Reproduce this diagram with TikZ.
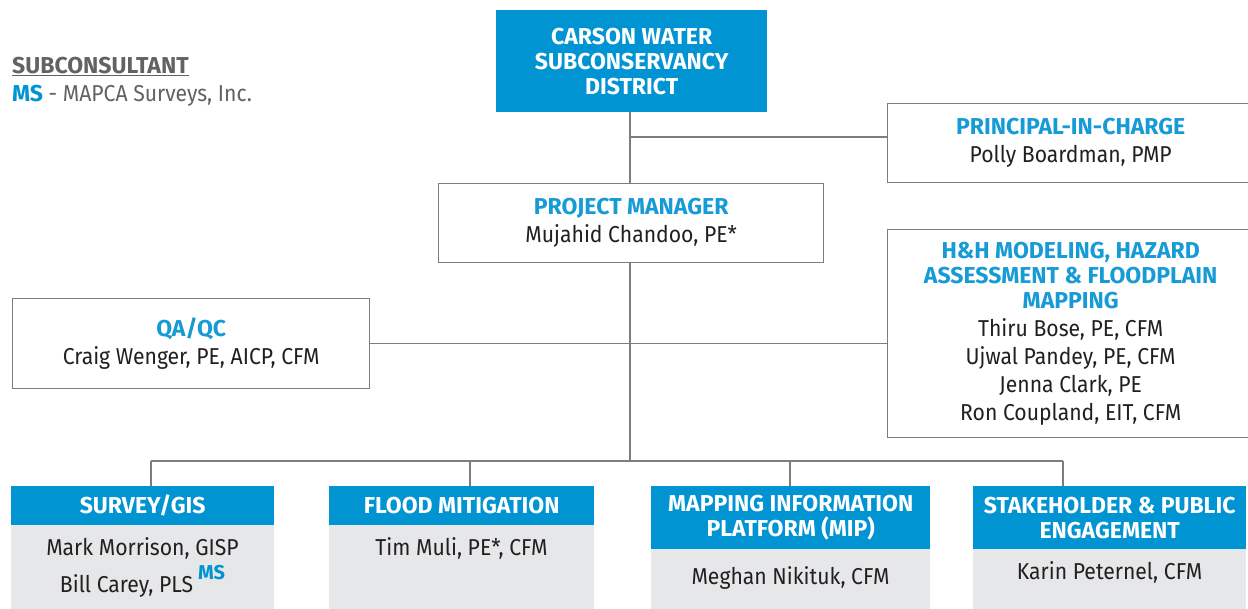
\documentclass[tikz,border=0pt]{standalone}
\usepackage{fontspec}
\setmainfont{Fira Sans}[UprightFeatures={FakeStretch=0.92}]
\usetikzlibrary{calc}
\definecolor{cwblue}{RGB}{0,148,211}
\definecolor{headblue}{RGB}{22,155,215}
\definecolor{linegray}{RGB}{125,125,125}
\definecolor{bodygray}{RGB}{230,231,232}
\definecolor{nametext}{RGB}{35,31,32}
\definecolor{legendgray}{RGB}{98,98,100}
\begin{document}
\begin{tikzpicture}[x=1pt,y=-1pt,
  conn/.style={draw=linegray, line width=1.4pt},
  wbox/.style={draw=linegray, line width=1.4pt, fill=white, inner sep=0pt,
    anchor=north west, align=center, text=nametext,
    font=\fontsize{23}{28}\selectfont},
  bluebox/.style={fill=cwblue, inner sep=0pt, anchor=north west, align=center,
    text=white, font=\bfseries\fontsize{23}{25}\selectfont},
  bodybox/.style={fill=bodygray, inner sep=0pt, anchor=north west},
  nametxt/.style={anchor=base, inner sep=0pt, text=nametext,
    font=\fontsize{23}{28}\selectfont},
  legend/.style={anchor=base west, inner sep=0pt, text=legendgray,
    font=\fontsize{23}{25}\selectfont}]
\useasboundingbox (0,0) rectangle (1248,608);
\fill[white] (0,0) rectangle (1248,608);

% legend
\node[legend] (legtitle) at (12,73) {\bfseries\underline{SUBCONSULTANT}};
\node[legend] (legentry) at (12,101) {{\color{cwblue}\bfseries MS} - MAPCA Surveys, Inc.};

% client
\node[bluebox, minimum width=271pt, minimum height=102pt] (cwsd) at (496,10)
  {CARSON WATER\\SUBCONSERVANCY\\DISTRICT};

% management boxes
\node[wbox, minimum width=366pt, minimum height=79pt] (pic) at (887,103)
  {{\color{headblue}\bfseries PRINCIPAL-IN-CHARGE}\\Polly Boardman, PMP};
\node[wbox, minimum width=385pt, minimum height=79pt] (pm) at (438,183)
  {{\color{headblue}\bfseries PROJECT MANAGER}\\Mujahid Chandoo, PE*};
\node[wbox, minimum width=357pt, minimum height=90pt] (qa) at (12,298)
  {{\color{headblue}\bfseries QA/QC}\\Craig Wenger, PE, AICP, CFM};
\node[wbox, minimum width=366pt, minimum height=208pt] (hh) at (887,229)
  {{\color{headblue}\bfseries H\&H MODELING, HAZARD}\\[-3pt]
   {\color{headblue}\bfseries ASSESSMENT \& FLOODPLAIN}\\[-3pt]
   {\color{headblue}\bfseries MAPPING}\\
   Thiru Bose, PE, CFM\\Ujwal Pandey, PE, CFM\\Jenna Clark, PE\\Ron Coupland, EIT, CFM};

% task leads
\node[bodybox, minimum width=263pt, minimum height=90pt] (surveybody) at (11,520) {};
\node[bluebox, minimum width=263pt, minimum height=39pt] (survey) at (11,486) {SURVEY/GIS};
\node[nametxt] (surveyname1) at (142.5,555) {Mark Morrison, GISP};
\node[nametxt] (surveyname2) at (142.5,592)
  {Bill Carey, PLS\hspace{5pt}\raisebox{13pt}{\fontsize{20}{20}\selectfont\bfseries\color{cwblue}MS}};

\node[bodybox, minimum width=265pt, minimum height=90pt] (fmbody) at (329,520) {};
\node[bluebox, minimum width=265pt, minimum height=39pt] (fm) at (329,486) {FLOOD MITIGATION};
\node[nametxt] (fmnames) at (461.5,555) {Tim Muli, PE*, CFM};

\node[bodybox, minimum width=279pt, minimum height=70pt] (mipbody) at (651,545) {};
\node[bluebox, minimum width=279pt, minimum height=63pt] (mip) at (651,486)
  {MAPPING INFORMATION\\PLATFORM (MIP)};
\node[nametxt] (mipnames) at (790.5,584) {Meghan Nikituk, CFM};

\node[bodybox, minimum width=273pt, minimum height=70pt] (spebody) at (973,545) {};
\node[bluebox, minimum width=273pt, minimum height=63pt] (spe) at (973,486)
  {STAKEHOLDER \& PUBLIC\\ENGAGEMENT};
\node[nametxt] (spenames) at (1109.5,579) {Karin Peternel, CFM};

% connectors
\coordinate (picjoin) at (630,137);
\coordinate (bus) at (630,461);
\coordinate (busL) at (151,461);
\coordinate (busR) at (1063,461);
\coordinate (dropfm) at (470,461);
\coordinate (dropmip) at (790,461);

\draw[conn] (cwsd.south -| picjoin) -- (pm.north -| picjoin);
\draw[conn] (picjoin) -- (picjoin -| pic.west);
\draw[conn] (pm.south -| bus) -- (bus);
\draw[conn] (qa.east) -- (qa.east -| hh.west);
\draw[conn] (busL) -- (busR);
\draw[conn] (busL) -- (busL |- survey.north);
\draw[conn] (dropfm) -- (dropfm |- fm.north);
\draw[conn] (dropmip) -- (dropmip |- mip.north);
\draw[conn] (busR) -- (busR |- spe.north);
\end{tikzpicture}
\end{document}
